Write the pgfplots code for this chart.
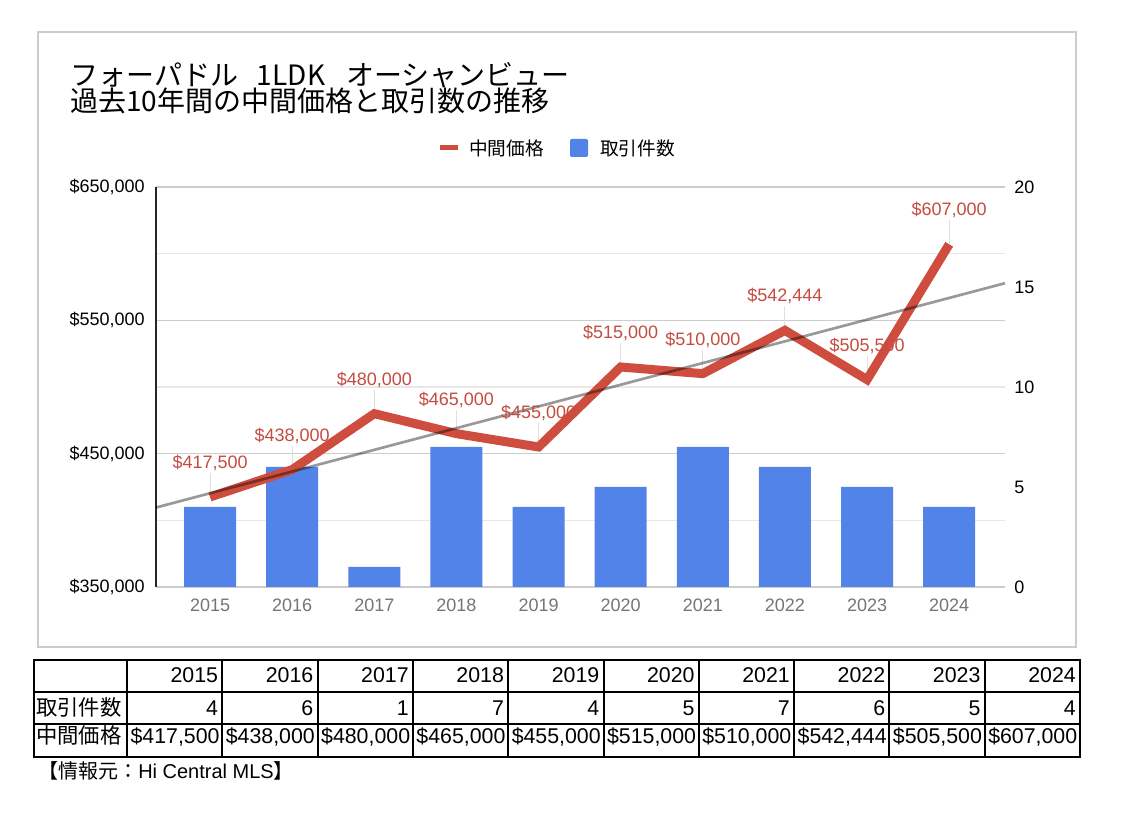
\documentclass[border=0pt]{standalone}
\usepackage{pgfplots}
\usepackage{pgfplotstable}
\pgfplotsset{compat=1.18}
\usepackage{fontspec}
\setmainfont{Liberation Sans}
\newfontfamily\jp{Noto Sans CJK JP}
\definecolor{lineRed}{RGB}{207,77,63}
\definecolor{labRed}{RGB}{197,76,64}
\definecolor{barBlue}{RGB}{81,131,232}
\definecolor{tickGray}{RGB}{117,117,117}
\definecolor{frameGray}{RGB}{204,204,204}
\definecolor{minorGray}{RGB}{232,232,232}

\pgfplotstableread{
x price count
0 417500 4
1 438000 6
2 480000 1
3 465000 7
4 455000 4
5 515000 5
6 510000 7
7 542444 6
8 505500 5
9 607000 4
}\datatable

\pgfplotstableread{
x y
-0.658 409603
9.68 577844
}\trendtable

\tikzset{lbl/.style={font=\fontsize{13.5pt}{15pt}\selectfont}}
\pgfplotsset{
  chartbase/.style={
    width=636.75pt, height=300pt, scale only axis,
    at={(117pt,171.75pt)}, anchor=south west,
    xmin=-0.658, xmax=9.68, clip=false,
    /pgf/number format/assume math mode=true,
  },
}

\begin{document}
\begin{tikzpicture}[x=0.75pt,y=0.75pt]
\path[fill=white] (0,0) rectangle (1122,816);
\draw[frameGray, line width=0.9pt] (38,169) rectangle (1076,784);

% title
\node[anchor=base west, inner sep=0, font=\jp\fontsize{21pt}{22pt}\selectfont] at (70,730) {フォーパドル\hspace{0.65em}1LDK\hspace{0.75em}オーシャンビュー};
\node[anchor=base west, inner sep=0, font=\jp\fontsize{21pt}{22pt}\selectfont] at (70,704) {過去10年間の中間価格と取引数の推移};

% legend
\draw[lineRed, line width=3.75pt] (440,668) -- (458,668);
\node[anchor=west, inner sep=0, font=\jp\fontsize{14pt}{15pt}\selectfont] at (469,668) {中間価格};
\fill[barBlue, rounded corners=1pt] (570,659) rectangle (588,677);
\node[anchor=west, inner sep=0, font=\jp\fontsize{14pt}{15pt}\selectfont] at (600,668) {取引件数};

% axis 1: grid, left axis, x labels
\begin{axis}[chartbase, ymin=350000, ymax=650000,
  axis x line*=bottom, axis y line*=left,
  x axis line style={-, draw=frameGray, line width=0.9pt},
  y axis line style={-, draw=black!85, line width=1.1pt},
  xtick={0,1,2,3,4,5,6,7,8,9},
  xticklabels={2015,2016,2017,2018,2019,2020,2021,2022,2023,2024},
  ytick={350000,450000,550000,650000},
  yticklabels={{\$350,000},{\$450,000},{\$550,000},{\$650,000}},
  minor ytick={400000,500000,600000},
  ymajorgrids, yminorgrids,
  major grid style={draw=frameGray, line width=0.9pt},
  minor grid style={draw=minorGray, line width=0.9pt},
  major tick length=0, minor tick length=0,
  tick style={draw=none},
  scaled y ticks=false,
  xticklabel style={lbl, text=tickGray, anchor=center, inner sep=0, yshift=-13.5pt},
  yticklabel style={lbl, text=black, anchor=east, inner sep=0, xshift=-8.25pt},
]
\addplot[draw=none, mark=none, forget plot] coordinates {(0,400000)};
\end{axis}

% axis 2: bars on right axis
\begin{axis}[chartbase, ymin=0, ymax=20,
  axis y line*=right, hide x axis,
  y axis line style={draw=none},
  ytick={0,5,10,15,20},
  major tick length=0, tick style={draw=none},
  yticklabel style={lbl, text=black, anchor=west, inner sep=0, xshift=6.75pt},
  ybar, bar width=39pt,
]
\addplot[fill=barBlue, draw=none] table[x=x, y=count] {\datatable};
\end{axis}

% axis 3: price line, trend, labels
\begin{axis}[chartbase, ymin=350000, ymax=650000, hide axis]
\addplot[draw=none, mark=none, forget plot,
  error bars/.cd, y dir=plus, y fixed=18000, error mark=none,
  error bar style={draw=gray!25, line width=0.75pt}]
  table[x=x, y=price] {\datatable};
\addplot[lineRed, line width=6.75pt, line join=miter, line cap=butt, mark=none]
  table[x=x, y=price] {\datatable};
\addplot[black, opacity=0.4, line width=2pt, mark=none] table[x=x, y=y] {\trendtable};
\addplot[draw=none, mark=none, point meta=y,
  nodes near coords={\$\pgfmathprintnumber[fixed, precision=0, 1000 sep={,}, assume math mode=true]{\pgfplotspointmeta}},
  every node near coord/.append style={lbl, text=labRed, anchor=center, inner sep=0, yshift=25.5pt}]
  table[x=x, y=price] {\datatable};
\end{axis}

% data table
\draw[line width=1.5pt] (34,59) rectangle (1080,156);
\draw[line width=1.5pt] (34,124) -- (1080,124);
\draw[line width=1.5pt] (34,92) -- (1080,92);
\foreach \cx in {127,222.3,317.6,412.9,508.2,603.5,698.8,794.1,889.4,984.7}
  \draw[line width=1.5pt] (\cx,59) -- (\cx,156);
\node[anchor=base west, inner sep=0, font=\jp\fontsize{16pt}{17pt}\selectfont] at (36,100) {取引件数};
\node[anchor=base west, inner sep=0, font=\jp\fontsize{16pt}{17pt}\selectfont] at (36,72) {中間価格};
\foreach \cx/\yr/\n/\p in {
  222.3/2015/4/{\$417,500}, 317.6/2016/6/{\$438,000}, 412.9/2017/1/{\$480,000},
  508.2/2018/7/{\$465,000}, 603.5/2019/4/{\$455,000}, 698.8/2020/5/{\$515,000},
  794.1/2021/7/{\$510,000}, 889.4/2022/6/{\$542,444}, 984.7/2023/5/{\$505,500},
  1080/2024/4/{\$607,000}} {
  \node[anchor=base east, inner sep=0, font=\fontsize{16pt}{17pt}\selectfont] at (\cx-4,133) {\yr};
  \node[anchor=base east, inner sep=0, font=\fontsize{16pt}{17pt}\selectfont] at (\cx-4,100) {\n};
  \node[anchor=base east, inner sep=0, font=\fontsize{16pt}{17pt}\selectfont] at (\cx-2.5,72) {\p};
}
% source
\node[anchor=base west, inner sep=0, font=\fontsize{15pt}{16pt}\selectfont] at (38,37) {{\jp 【情報元：}Hi Central MLS{\jp 】}};
\end{tikzpicture}
\end{document}
